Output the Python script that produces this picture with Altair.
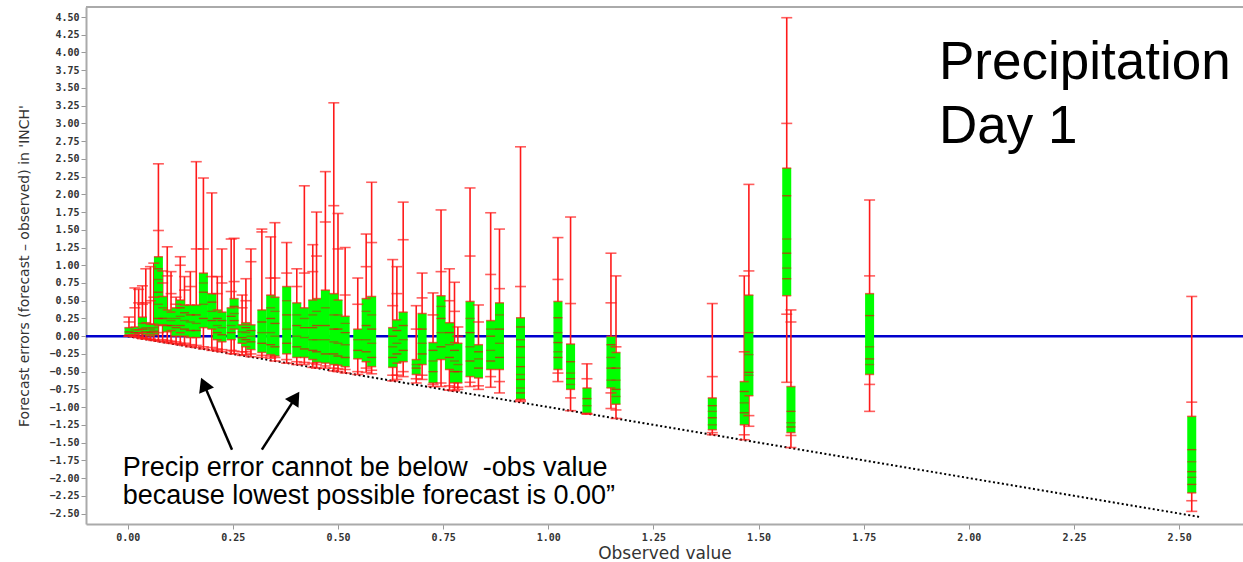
import altair as alt
import pandas as pd

# ---------------- data ----------------
obs = [0.003, 0.017, 0.026, 0.035, 0.043, 0.054, 0.062, 0.073, 0.083, 0.094,
       0.103, 0.115, 0.125, 0.135, 0.149, 0.163, 0.180, 0.200, 0.213, 0.224,
       0.246, 0.253, 0.272, 0.281, 0.293, 0.319, 0.340, 0.350, 0.378, 0.402,
       0.420, 0.440, 0.449, 0.470, 0.490, 0.500, 0.517, 0.547, 0.567, 0.580,
       0.630, 0.640, 0.655, 0.686, 0.700, 0.726, 0.745, 0.765, 0.777, 0.785,
       0.814, 0.834, 0.863, 0.884, 0.934, 1.023, 1.053, 1.092, 1.149, 1.161,
       1.390, 1.466, 1.477, 1.567, 1.577, 1.764, 2.530]
wlo = [0.00, -0.01, -0.02, -0.035, -0.04, -0.05, -0.06, -0.07, -0.08, -0.09,
       -0.10, -0.11, -0.12, -0.13, -0.15, -0.16, -0.18, -0.20, -0.21, -0.22,
       -0.245, -0.25, -0.27, -0.26, -0.29, -0.30, -0.31, -0.35, -0.38, -0.40,
       -0.40, -0.44, -0.45, -0.45, -0.49, -0.50, -0.52, -0.54, -0.51, -0.53,
       -0.63, -0.61, -0.57, -0.66, -0.61, -0.71, -0.71, -0.76, -0.77, -0.75,
       -0.71, -0.75, -0.72, -0.80, -0.92, -0.64, -1.05, -1.10, -1.02, -1.16,
       -1.39, -1.46, -1.27, -0.65, -1.57, -1.06, -2.47]
p10 = [0.00, 0.00, 0.00, -0.02, -0.03, -0.04, -0.05, 0.05, -0.05, -0.06,
       -0.07, -0.08, -0.10, -0.10, -0.12, -0.13, -0.15, -0.16, -0.18, -0.19,
       -0.20, -0.21, -0.22, -0.22, -0.25, -0.27, -0.28, -0.30, -0.33, -0.36,
       -0.37, -0.38, -0.40, -0.42, -0.45, -0.46, -0.47, -0.50, -0.45, -0.48,
       -0.55, -0.55, -0.50, -0.60, -0.55, -0.68, -0.66, -0.70, -0.72, -0.72,
       -0.65, -0.70, -0.57, -0.64, -0.90, -0.52, -0.87, -1.09, -0.80, -1.04,
       -1.36, -1.39, -1.12, 0.31, -1.40, -0.68, -2.32]
q25 = [0.02, 0.02, 0.03, 0.05, 0.02, 0.00, 0.02, 0.15, 0.16, 0.06,
       0.08, 0.00, 0.05, 0.00, -0.02, -0.02, 0.12, 0.10, -0.05, -0.08,
       -0.05, 0.10, -0.10, -0.15, -0.19, -0.23, -0.26, -0.28, -0.25, -0.30,
       -0.30, -0.33, -0.37, -0.38, -0.40, -0.41, -0.43, -0.32, -0.36, -0.43,
       -0.44, -0.38, -0.36, -0.54, -0.40, -0.66, -0.33, -0.47, -0.66, -0.66,
       -0.57, -0.59, -0.47, -0.47, -0.89, -0.47, -0.75, -1.09, -0.73, -0.96,
       -1.32, -1.25, -0.84, 0.57, -1.36, -0.54, -2.21]
q75 = [0.12, 0.13, 0.09, 0.27, 0.19, 0.17, 0.17, 1.12, 0.56, 0.37,
       0.34, 0.40, 0.51, 0.44, 0.44, 0.44, 0.89, 0.60, 0.37, 0.34,
       0.40, 0.53, 0.16, 0.19, 0.16, 0.37, 0.58, 0.55, 0.70, 0.47,
       0.40, 0.51, 0.53, 0.65, 0.60, 0.51, 0.28, 0.10, 0.53, 0.56,
       0.12, 0.23, 0.34, -0.33, 0.32, -0.09, 0.57, 0.19, -0.09, -0.10,
       0.49, -0.12, 0.22, 0.47, 0.26, 0.49, -0.11, -0.73, 0.00, -0.23,
       -0.87, -0.64, 0.58, 2.37, -0.71, 0.60, -1.13]
p90 = [0.20, 0.40, 0.47, 0.45, 0.47, 0.50, 0.55, 1.49, 0.75, 0.85,
       0.60, 0.45, 1.00, 0.65, 0.70, 1.23, 1.23, 0.84, 0.60, 0.75,
       0.63, 0.77, 0.40, 0.50, 1.05, 1.47, 0.82, 0.82, 0.89, 0.70,
       0.89, 0.91, 1.13, 1.61, 1.84, 1.23, 0.58, 0.45, 0.98, 1.32,
       0.43, 0.60, 1.36, 0.10, 0.54, 0.30, 0.91, 0.50, 0.35, 0.00,
       1.13, 0.20, 0.87, 0.67, 0.70, 0.80, 0.46, -0.60, 0.47, -0.15,
       -0.57, -0.22, 0.92, 3.00, 0.20, 0.85, -0.93]
whi = [0.27, 0.68, 0.66, 0.71, 0.95, 0.98, 1.03, 2.43, 0.92, 1.26,
       0.91, 0.55, 1.12, 0.84, 0.91, 2.46, 2.23, 2.02, 0.84, 1.23,
       1.37, 1.38, 0.58, 0.81, 1.23, 1.51, 1.40, 1.60, 1.32, 0.95,
       2.12, 1.29, 1.75, 2.32, 3.29, 1.73, 1.25, 0.82, 1.44, 2.17,
       1.08, 0.98, 1.89, 0.43, 0.89, 0.61, 1.78, 0.95, 0.76, 0.13,
       2.09, 0.44, 1.74, 1.51, 2.67, 1.39, 1.68, -0.39, 1.17, 0.85,
       0.46, 0.85, 2.14, 4.49, 0.37, 1.92, 0.56]
inner = [[0.06], [0.05, 0.09], [0.05], [0.10, 0.18], [0.06, 0.12],
         [0.05, 0.10], [0.07, 0.12], [0.25, 0.45, 0.62, 0.80, 0.95], [0.25, 0.40], [0.15, 0.25],
         [0.15, 0.22], [0.12, 0.25], [0.15, 0.28, 0.40], [0.10, 0.22, 0.33], [0.08, 0.20, 0.30],
         [0.08, 0.18, 0.30], [0.25, 0.45, 0.62, 0.75], [0.22, 0.35, 0.48], [0.05, 0.15, 0.25], [0.02, 0.12, 0.22],
         [0.05, 0.15, 0.28], [0.22, 0.32, 0.42], [-0.02, 0.06], [-0.05, 0.05, 0.12], [-0.08, 0.00, 0.08],
         [-0.10, 0.05, 0.20], [-0.12, 0.05, 0.25, 0.40], [-0.15, 0.00, 0.18, 0.35], [-0.10, 0.10, 0.30, 0.50], [-0.15, 0.00, 0.15, 0.30],
         [-0.18, -0.02, 0.12, 0.25], [-0.20, -0.05, 0.12, 0.30], [-0.22, -0.05, 0.15, 0.35], [-0.25, -0.05, 0.15, 0.40], [-0.25, -0.08, 0.10, 0.30],
         [-0.28, -0.10, 0.10, 0.30], [-0.30, -0.12, 0.05, 0.18], [-0.20, -0.05], [-0.22, -0.05, 0.15, 0.35], [-0.30, -0.10, 0.10, 0.30],
         [-0.30, -0.15, 0.00], [-0.25, -0.10, 0.08], [-0.20, -0.05, 0.15], [-0.45, -0.40], [-0.25, -0.10, 0.10],
         [-0.50, -0.35, -0.20], [-0.15, 0.05, 0.25, 0.42], [-0.30, -0.12, 0.05], [-0.50, -0.35, -0.20], [-0.50, -0.40],
         [-0.35, -0.15, 0.05, 0.25], [-0.45, -0.32, -0.22], [-0.35, -0.20, 0.00, 0.10], [-0.30, -0.10, 0.10, 0.30],
         [0.13, -0.05, -0.15, -0.30, -0.43, -0.54, -0.61, -0.73, -0.80],
         [0.26, 0.05, -0.09, -0.22, -0.30], [-0.36, -0.52, -0.60, -0.68], [-0.88, -0.98],
         [-0.12, -0.30, -0.45, -0.62], [-0.45, -0.62, -0.75, -0.85],
         [-0.98, -1.06, -1.15, -1.25], [-0.78, -0.94, -1.08], [0.05, -0.26, -0.51, -0.55],
         [1.98, 1.37, 1.17, 0.96, 0.81], [-1.06, -1.22, -1.28], [0.29, -0.15, -0.32, -0.40],
         [-1.60, -1.77, -1.91, -1.99, -2.09]]

x_ticks = [0.0, 0.25, 0.5, 0.75, 1.0, 1.25, 1.5, 1.75, 2.0, 2.25, 2.5]
y_ticks = [-2.5, -2.25, -2.0, -1.75, -1.5, -1.25, -1.0, -0.75, -0.5, -0.25, 0.0,
           0.25, 0.5, 0.75, 1.0, 1.25, 1.5, 1.75, 2.0, 2.25, 2.5, 2.75, 3.0,
           3.25, 3.5, 3.75, 4.0, 4.25, 4.5]
x_domain = [-0.0873, 2.64]
y_domain = [-2.648, 4.641]

diag_obs = [0.0, 2.55]

ann_text = ["Precipitation", "Day 1",
            "Precip error cannot be below \u00a0-obs value",
            "because lowest possible forecast is 0.00\u201d"]
ann_x = [1.929, 1.929, -0.012, -0.012]
ann_y = [3.62, 2.73, -1.97, -2.36]
ann_size = [53, 53, 27, 27]

arrow_tail_x = [0.248, 0.319]
arrow_tail_y = [-1.60, -1.60]
arrow_head_x = [0.181, 0.399]
arrow_head_y = [-0.676, -0.866]
arrow_angle = [337, 33]

# ---------------- tables ----------------
W, H = 1157, 517
boxes = pd.DataFrame(dict(obs=obs, wlo=wlo, p10=p10, q25=q25, q75=q75, p90=p90, whi=whi))
caps = boxes.melt(id_vars="obs", value_vars=["wlo", "whi", "p10", "p90"], value_name="v")
edges = boxes.melt(id_vars="obs", value_vars=["q25", "q75"], value_name="v")
inner_rows = [(o, v, i % 2) for o, vals in zip(obs, inner) for i, v in enumerate(vals)]
inner_df = pd.DataFrame(inner_rows, columns=["obs", "v", "k"])
diag = pd.DataFrame(dict(obs=diag_obs, v=[-d for d in diag_obs]))
zero = pd.DataFrame(dict(v=[0.0]))
ann = pd.DataFrame(dict(t=ann_text, obs=ann_x, v=ann_y, s=ann_size))
arrows = pd.DataFrame(dict(obs=arrow_tail_x, v=arrow_tail_y, obs2=arrow_head_x,
                           v2=arrow_head_y, a=arrow_angle))

TICK_FONT = dict(labelFont="DejaVu Sans Mono", labelFontWeight="bold", labelFontSize=10,
                 labelColor="#333333", tickColor="#999999", tickSize=5, domainColor="#aaaaaa",
                 domainWidth=2, grid=False, titleFont="DejaVu Sans", titleFontWeight="normal",
                 titleColor="#333333")


def X(field="obs"):
    return alt.X(f"{field}:Q", scale=alt.Scale(domain=x_domain, nice=False, zero=False),
                 axis=alt.Axis(values=x_ticks, format=".2f", title="Observed value",
                               titleFontSize=17, labelPadding=3, titlePadding=3, **TICK_FONT))


def Y(field="v"):
    return alt.Y(f"{field}:Q", scale=alt.Scale(domain=y_domain, nice=False, zero=False),
                 axis=alt.Axis(values=y_ticks, format=".2f",
                               title="Forecast errors (forecast \u2013 observed) in 'INCH'",
                               titleFontSize=14, labelPadding=2, titlePadding=17, **TICK_FONT))


RED = "#ff1a1a"

frame = alt.Chart(zero).mark_rule(color="#aaaaaa", strokeWidth=2).encode(
    x=alt.value(0), x2=alt.value(W), y=alt.value(0))

zero_line = alt.Chart(zero).mark_rule(color="#0000cc", strokeWidth=2.5).encode(y=Y("v"))

diag_line = alt.Chart(diag).mark_line(color="black", strokeWidth=2, strokeDash=[2, 2.5]).encode(
    x=X("obs"), y=Y("v"))

whiskers = alt.Chart(boxes).mark_rule(color=RED, strokeWidth=1.6).encode(
    x=X("obs"), y=Y("wlo"), y2="whi:Q")

box = alt.Chart(boxes).mark_bar(size=9, color="#00ff00").encode(
    x=X("obs"), y=Y("q25"), y2="q75:Q")

inner_ticks = alt.Chart(inner_df).mark_tick(orient="horizontal", size=9, thickness=1.4).encode(
    x=X("obs"), y=Y("v"),
    color=alt.Color("k:N", scale=alt.Scale(domain=[0, 1], range=["#e01010", "#9a5a10"]), legend=None))

edge_ticks = alt.Chart(edges).mark_tick(orient="horizontal", size=9, thickness=1.5, color=RED).encode(
    x=X("obs"), y=Y("v"))

cap_ticks = alt.Chart(caps).mark_tick(orient="horizontal", size=11, thickness=1.6, color=RED).encode(
    x=X("obs"), y=Y("v"))

texts = alt.Chart(ann).mark_text(align="left", baseline="alphabetic", font="Liberation Sans",
                                 color="black").encode(
    x=X("obs"), y=Y("v"), text="t:N", size=alt.Size("s:Q", scale=None))

arrow_lines = alt.Chart(arrows).mark_rule(color="black", strokeWidth=2.5).encode(
    x=X("obs"), y=Y("v"), x2="obs2:Q", y2="v2:Q")

arrow_heads = alt.Chart(arrows).mark_point(shape="triangle-up", filled=True, size=260,
                                           color="black", opacity=1).encode(
    x=X("obs2"), y=Y("v2"), angle=alt.Angle("a:Q", scale=None))

chart = alt.layer(
    zero_line, diag_line, whiskers, box, inner_ticks, edge_ticks, cap_ticks,
    texts, arrow_lines, arrow_heads, frame
).properties(
    width=W, height=H, autosize=alt.AutoSizeParams(type="none"),
    padding={"left": 86, "top": 7, "right": 0, "bottom": 38},
    background="white"
).configure_view(stroke=None)

chart.save("out.html", embed_options={"renderer": "svg", "actions": False})
